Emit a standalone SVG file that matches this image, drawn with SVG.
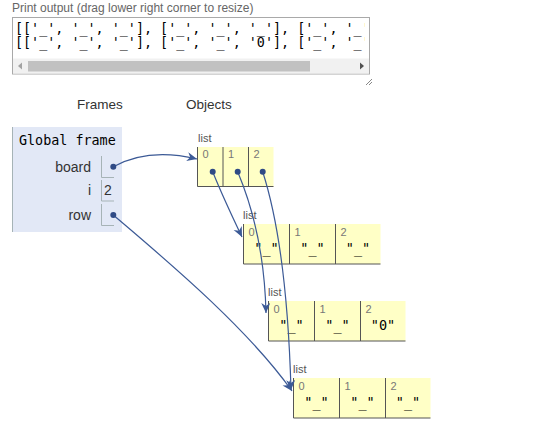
<svg xmlns="http://www.w3.org/2000/svg" width="550" height="433" viewBox="0 0 550 433">
<style>
.lbl{font-family:"Liberation Sans",Arial,sans-serif;fill:#333;}
.mono{font-family:"DejaVu Sans Mono","Liberation Mono",monospace;fill:#000;}
.idx{font-family:"Liberation Sans",Arial,sans-serif;font-size:11px;fill:#777;}
.ltag{font-family:"Liberation Sans",Arial,sans-serif;font-size:11px;fill:#555;}
.cell{fill:#ffffc6;stroke:none;}
.cb{stroke:#555;stroke-width:1;fill:none;}
.val{font-family:"DejaVu Sans Mono","Liberation Mono",monospace;font-size:13.5px;fill:#000;text-anchor:middle;}
.vb{stroke:#a6b3b6;stroke-width:1;fill:none;}
.conn{stroke:#3c5a96;stroke-width:1.2;fill:none;marker-end:url(#arr);}
.dot{fill:#2f4a85;}
</style>
<defs>
<marker id="arr" markerUnits="userSpaceOnUse" markerWidth="12" markerHeight="10" refX="10" refY="4.5" orient="auto">
<path d="M0,0 L10,4.5 L0,9 L3,4.5 z" fill="#3c5a96"/>
</marker>
<clipPath id="pclip"><rect x="13" y="18" width="352" height="40"/></clipPath>
</defs>
<rect width="550" height="433" fill="#fff"/>

<g id="print-output">
<text class="lbl" x="12" y="12" font-size="12px" style="fill:#666">Print output (drag lower right corner to resize)</text>
<rect x="12.5" y="17.5" width="357" height="56.5" fill="#fff" stroke="#a9a9a9"/>
<g clip-path="url(#pclip)">
<text class="mono" x="15" y="32.5" font-size="13.4px" xml:space="preserve">[['_', '_', '_'], ['_', '_', '_'], ['_', '_', '_']]</text>
<text class="mono" x="15" y="46.5" font-size="13.4px" xml:space="preserve">[['_', '_', '_'], ['_', '_', '0'], ['_', '_', '_']]</text>
</g>
<rect x="13" y="58.5" width="356" height="15" fill="#f1f1f1"/>
<rect x="28" y="61" width="282" height="10.5" fill="#c1c1c1"/>
<path d="M18,66 L22,62.5 L22,69.5 z" fill="#a3a3a3"/>
<path d="M364,66 L360,62.5 L360,69.5 z" fill="#505050"/>
<path d="M366,85 L372,79 M369,85 L372,82" stroke="#888" stroke-width="1"/>
</g>

<text class="lbl" x="77" y="109" font-size="13.5px">Frames</text>
<text class="lbl" x="186" y="109" font-size="13.5px">Objects</text>

<g id="global-frame">
<rect x="12" y="127" width="110" height="105" fill="#e2e8f6"/>
<line x1="12.5" y1="127" x2="12.5" y2="232" stroke="#a6b3b6"/>
<text class="mono" x="19" y="145" font-size="13.4px">Global frame</text>
<text class="lbl" x="91" y="171.5" font-size="14px" text-anchor="end">board</text>
<path class="vb" d="M101.5,156 V177.5 H114"/>
<text class="lbl" x="91" y="194.5" font-size="14px" text-anchor="end">i</text>
<path class="vb" d="M101.5,180 V201 H114"/>
<text class="lbl" x="104" y="194.5" font-size="14px">2</text>
<text class="lbl" x="91" y="219.5" font-size="14px" text-anchor="end">row</text>
<path class="vb" d="M101.5,204 V225.5 H114"/>
</g>

<g id="list1">
<text class="ltag" x="198" y="142">list</text>
<rect class="cell" x="197.5" y="147" width="76" height="40"/>
<path class="cb" d="M197.5,147 V186.5 H273.5 M223,147 V186.5 M248.5,147 V186.5"/>
<text class="idx" x="202.5" y="158">0</text>
<text class="idx" x="228" y="158">1</text>
<text class="idx" x="253.5" y="158">2</text>
</g>

<g id="list2">
<text class="ltag" x="243" y="219">list</text>
<rect class="cell" x="243.5" y="224" width="137" height="40"/>
<path class="cb" d="M243.5,224 V264 H380.5 M289.5,224 V264 M335.5,224 V264"/>
<text class="idx" x="248.5" y="236">0</text>
<text class="idx" x="294.5" y="236">1</text>
<text class="idx" x="340.5" y="236">2</text>
<text class="val" x="266.5" y="253">"_"</text>
<text class="val" x="312.5" y="253">"_"</text>
<text class="val" x="358" y="253">"_"</text>
</g>

<g id="list3">
<text class="ltag" x="268" y="296">list</text>
<rect class="cell" x="268.5" y="301" width="137" height="40"/>
<path class="cb" d="M268.5,301 V341 H405.5 M314.5,301 V341 M360.5,301 V341"/>
<text class="idx" x="273.5" y="313">0</text>
<text class="idx" x="319.5" y="313">1</text>
<text class="idx" x="365.5" y="313">2</text>
<text class="val" x="291.5" y="330">"_"</text>
<text class="val" x="337.5" y="330">"_"</text>
<text class="val" x="383" y="330">"0"</text>
</g>

<g id="list4">
<text class="ltag" x="293" y="373">list</text>
<rect class="cell" x="293.5" y="378" width="137" height="40"/>
<path class="cb" d="M293.5,378 V418 H430.5 M339.5,378 V418 M385.5,378 V418"/>
<text class="idx" x="298.5" y="390">0</text>
<text class="idx" x="344.5" y="390">1</text>
<text class="idx" x="390.5" y="390">2</text>
<text class="val" x="316.5" y="407">"_"</text>
<text class="val" x="362.5" y="407">"_"</text>
<text class="val" x="408" y="407">"_"</text>
</g>

<g id="connectors">
<path class="conn" d="M113.3,166.7 C140,152 168,152 197,159"/>
<path class="conn" d="M212.7,171.7 C222,195 232,216 242,237"/>
<path class="conn" d="M237.7,171.7 C258,220 265,270 266,313"/>
<path class="conn" d="M262.7,171.7 C283,235 289,320 291,390"/>
<path class="conn" d="M113.3,215 C160,255 245,325 292,391"/>
<circle class="dot" cx="113.3" cy="166.7" r="3"/>
<circle class="dot" cx="113.3" cy="215" r="3"/>
<circle class="dot" cx="212.7" cy="171.7" r="3"/>
<circle class="dot" cx="237.7" cy="171.7" r="3"/>
<circle class="dot" cx="262.7" cy="171.7" r="3"/>
</g>
</svg>
